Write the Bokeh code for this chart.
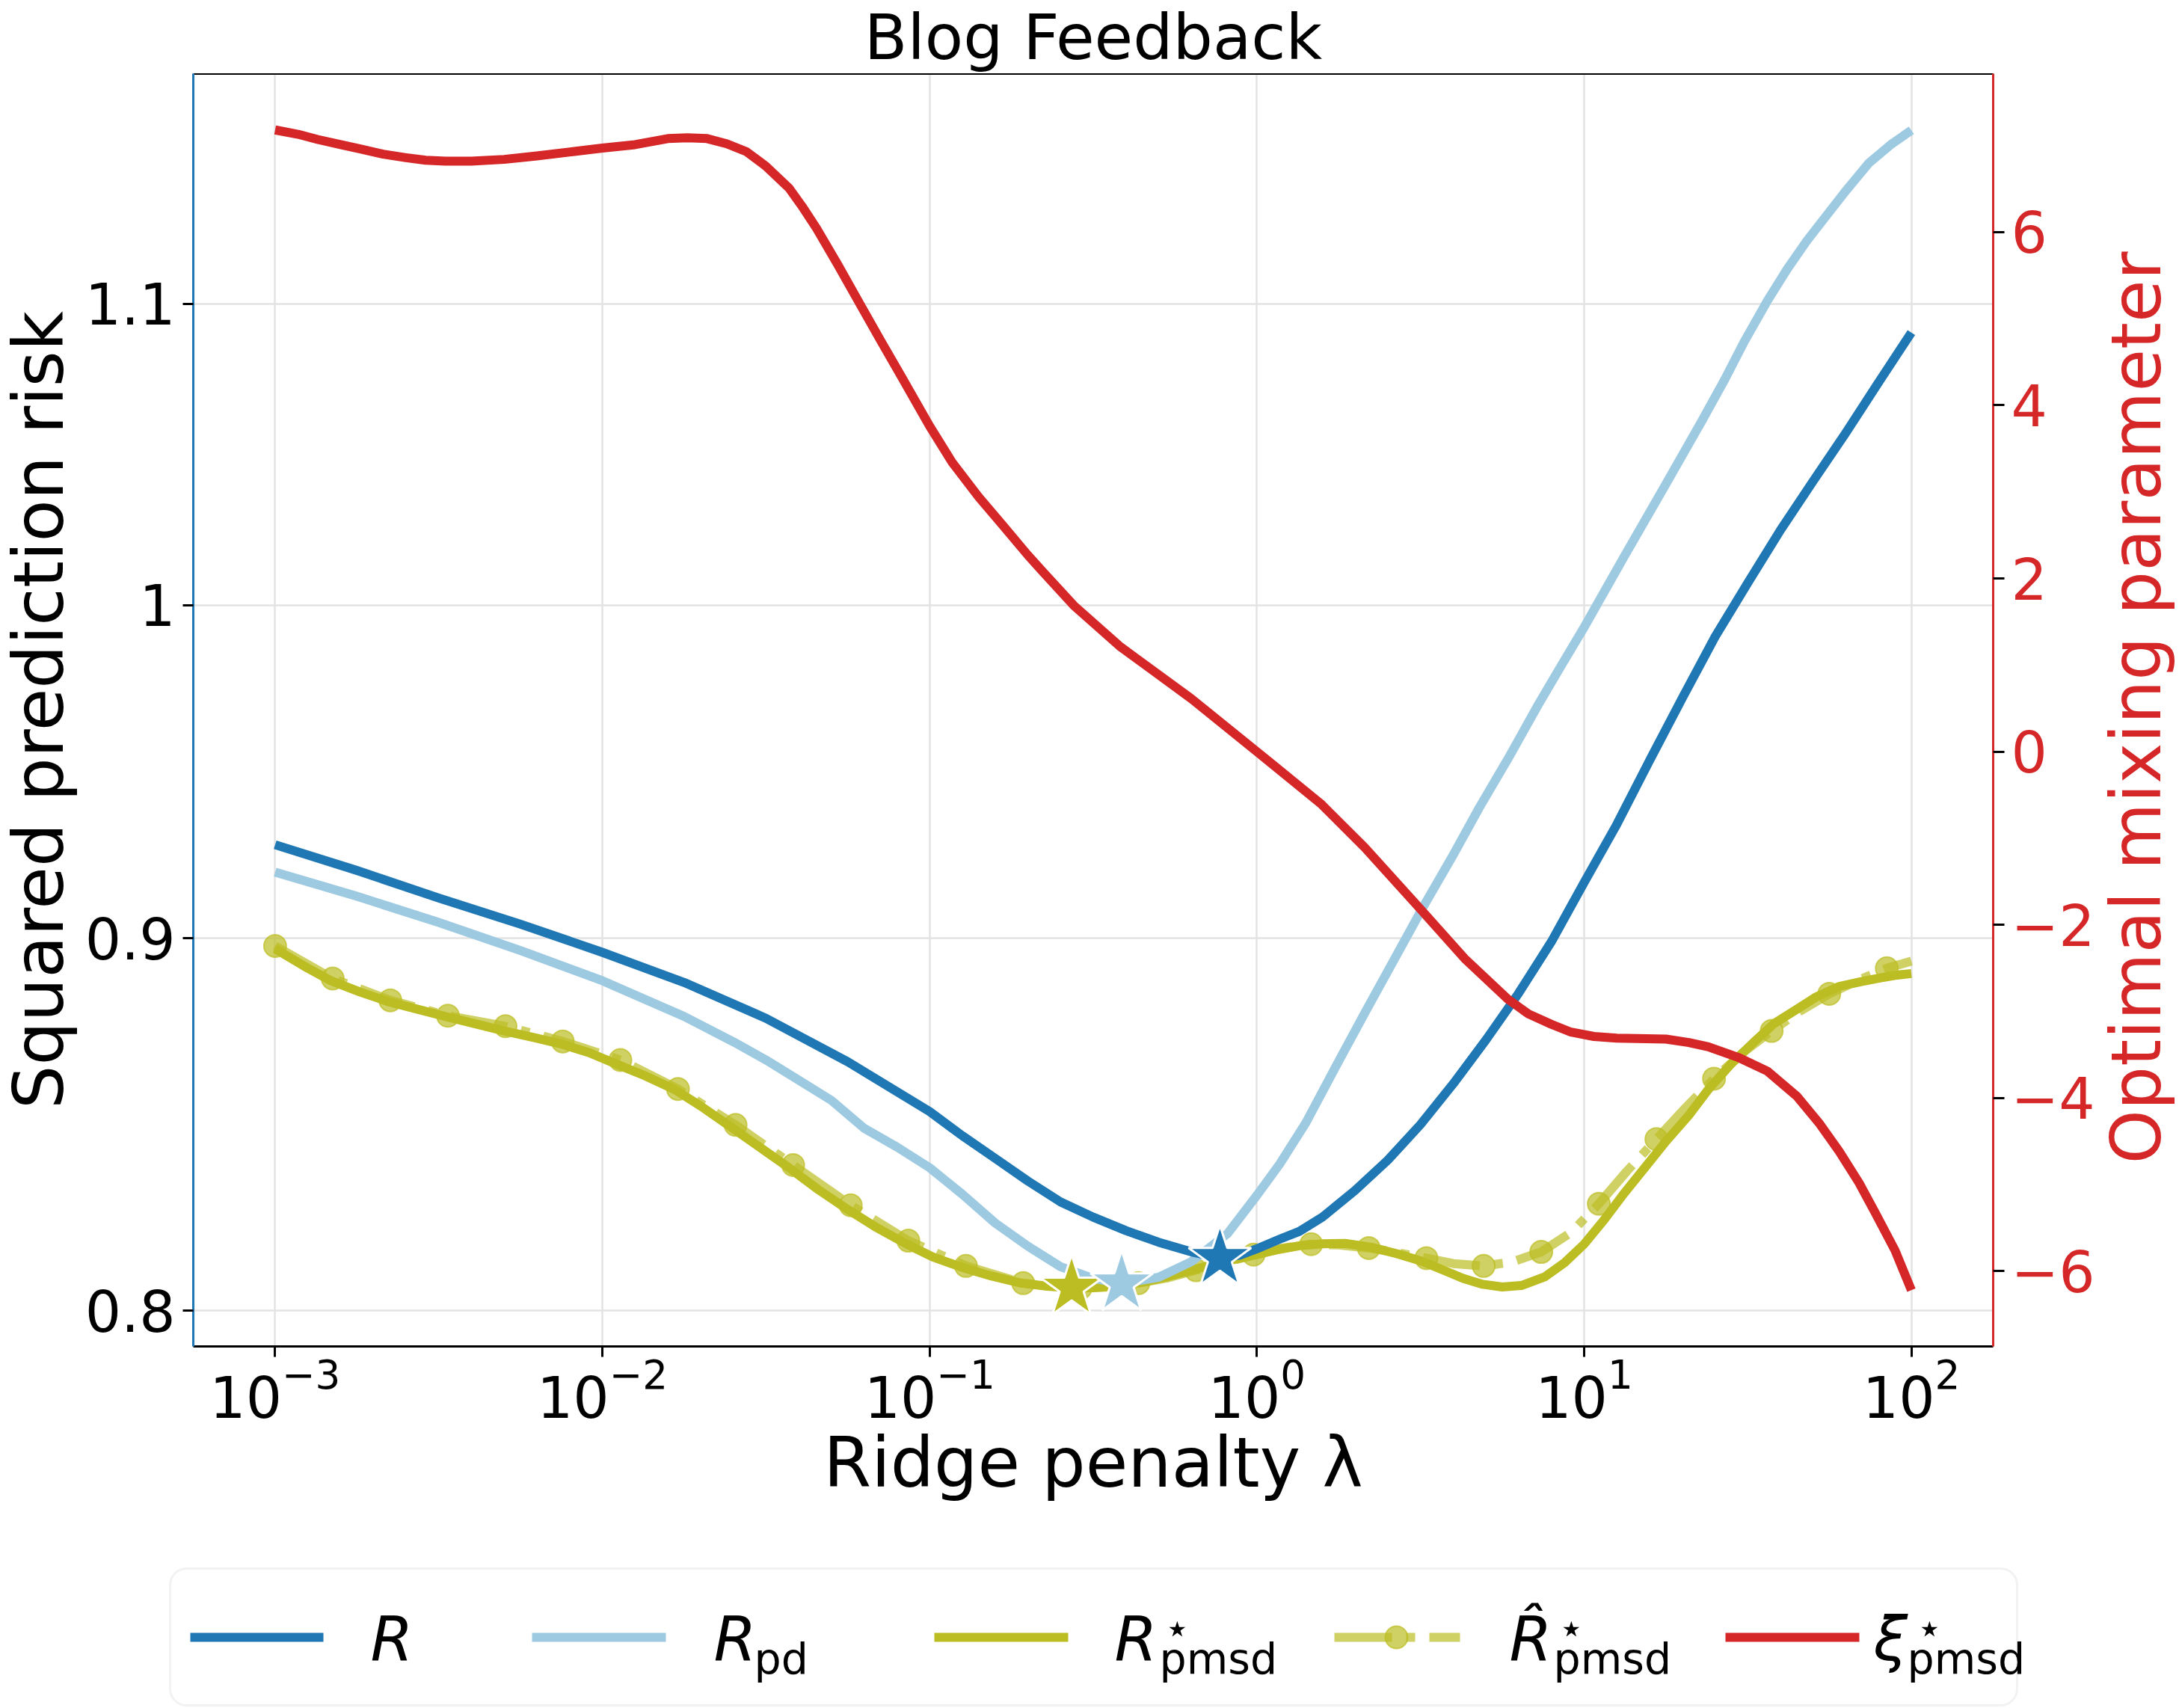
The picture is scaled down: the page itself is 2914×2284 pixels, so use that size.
import numpy as np
from bokeh.plotting import figure
from bokeh.models import (Range1d, LinearAxis, LinearScale, FixedTicker, CustomJSTickFormatter,
                          BoxAnnotation, Plot)
from bokeh.layouts import column, row
from bokeh.embed import file_html
from bokeh.resources import INLINE
from bokeh.core.properties import value

# ---------------- data (log10 of ridge penalty) ----------------
title_text = "Blog Feedback"
x_label = "Ridge penalty λ"
y_label = "Squared prediction risk"
y2_label = "Optimal mixing parameter"

r_loglam = [-3.0, -2.75, -2.5, -2.25, -2.0, -1.75, -1.5, -1.25, -1.0, -0.9, -0.8, -0.7, -0.6,
            -0.5, -0.4, -0.3, -0.2, -0.11, -0.05, 0.0, 0.07, 0.13, 0.2, 0.3, 0.4, 0.5, 0.6,
            0.7, 0.8, 0.9, 1.0, 1.1, 1.2, 1.3, 1.4, 1.5, 1.6, 1.7, 1.8, 1.9, 2.0]
r_vals = [0.927, 0.9195, 0.9115, 0.904, 0.896, 0.8875, 0.8775, 0.8655, 0.852, 0.8455, 0.8395,
          0.8335, 0.8280, 0.8240, 0.8205, 0.8175, 0.8150, 0.8134, 0.8142, 0.8158, 0.8183,
          0.8203, 0.8240, 0.8310, 0.8390, 0.8485, 0.8595, 0.8715, 0.8845, 0.899, 0.916,
          0.933, 0.952, 0.971, 0.990, 1.007, 1.024, 1.040, 1.056, 1.073, 1.090]

pd_loglam = [-3.0, -2.75, -2.5, -2.25, -2.0, -1.75, -1.6, -1.5, -1.4, -1.3, -1.2, -1.1, -1.0,
             -0.9, -0.8, -0.7, -0.6, -0.5, -0.413, -0.3, -0.2, -0.09, 0.0, 0.07, 0.15, 0.24,
             0.33, 0.42, 0.5, 0.6, 0.68, 0.77, 0.86, 0.93, 1.0, 1.12, 1.25, 1.36, 1.43, 1.49,
             1.56, 1.62, 1.68, 1.74, 1.8, 1.87, 1.94, 2.0]
pd_vals = [0.919, 0.912, 0.9045, 0.8965, 0.888, 0.878, 0.871, 0.866, 0.8605, 0.855, 0.8475,
           0.8425, 0.837, 0.830, 0.8225, 0.8165, 0.8112, 0.8082, 0.8069, 0.8085, 0.8125,
           0.8197, 0.8297, 0.8380, 0.849, 0.864, 0.879, 0.894, 0.9076, 0.924, 0.938, 0.953,
           0.969, 0.981, 0.993, 1.015, 1.039, 1.060, 1.074, 1.087, 1.101, 1.112, 1.122, 1.131,
           1.140, 1.150, 1.157, 1.162]

pmsd_loglam = [-3.0, -2.9, -2.83, -2.74, -2.65, -2.56, -2.48, -2.39, -2.3, -2.21, -2.13, -2.04,
               -1.96, -1.87, -1.78, -1.7, -1.61, -1.52, -1.43, -1.34, -1.25, -1.16, -1.07,
               -0.99, -0.9, -0.81, -0.72, -0.64, -0.57, -0.5, -0.42, -0.35, -0.28, -0.2, -0.1,
               0.0, 0.07, 0.13, 0.2, 0.27, 0.35, 0.43, 0.5, 0.57, 0.63, 0.69, 0.75, 0.81, 0.88,
               0.94, 1.0, 1.06, 1.12, 1.19, 1.25, 1.32, 1.38, 1.45, 1.52, 1.58, 1.65, 1.71,
               1.78, 1.85, 1.9, 1.95, 2.0]
pmsd_vals = [0.897, 0.8915, 0.888, 0.8848, 0.882, 0.8799, 0.878, 0.876, 0.874, 0.8722, 0.8705,
             0.868, 0.865, 0.8617, 0.858, 0.8535, 0.848, 0.8425, 0.837, 0.8312, 0.826, 0.8212,
             0.817, 0.8137, 0.811, 0.8088, 0.807, 0.8062, 0.8058, 0.8058, 0.8063, 0.8072,
             0.8085, 0.8103, 0.8125, 0.8143, 0.8157, 0.8166, 0.8171, 0.8172, 0.8162, 0.8145,
             0.8127, 0.8103, 0.8082, 0.8067, 0.8060, 0.8064, 0.8086, 0.8122, 0.817, 0.8232,
             0.830, 0.8375, 0.844, 0.851, 0.858, 0.865, 0.871, 0.876, 0.880, 0.8835, 0.8864,
             0.8878, 0.8887, 0.8895, 0.890]

# markers of the estimated risk curve
rhat_mk_loglam = [-3.0, -2.824, -2.648, -2.472, -2.296, -2.121, -1.945, -1.769, -1.593, -1.417,
                  -1.241, -1.065, -0.889, -0.714, -0.538, -0.362, -0.186, -0.010, 0.166, 0.342,
                  0.518, 0.693, 0.869, 1.045, 1.221, 1.397, 1.573, 1.749, 1.925]
rhat_mk_vals = [0.8978, 0.8886, 0.8825, 0.8782, 0.8753, 0.8711, 0.8660, 0.8581, 0.8484, 0.8377,
                0.8271, 0.8179, 0.8114, 0.8070, 0.8058, 0.8070, 0.8103, 0.8143, 0.8170, 0.8160,
                0.8134, 0.8114, 0.8150, 0.8275, 0.8446, 0.8609, 0.8740, 0.8843, 0.8915]
# dash-dot line of the estimated risk curve
rhat_ln_loglam = [-3.0, -2.824, -2.648, -2.472, -2.296, -2.121, -1.945, -1.769, -1.593, -1.417,
                  -1.241, -1.065, -0.889, -0.714, -0.62, -0.538, -0.45, -0.362, -0.27, -0.186,
                  -0.1, -0.010, 0.08, 0.166, 0.25, 0.342, 0.43, 0.518, 0.6, 0.693, 0.78, 0.869,
                  0.96, 1.045, 1.13, 1.221, 1.31, 1.397, 1.485, 1.573, 1.66, 1.749, 1.84,
                  1.925, 2.0]
rhat_ln_vals = [0.8978, 0.8886, 0.8825, 0.8782, 0.8753, 0.8711, 0.8660, 0.8581, 0.8484, 0.8377,
                0.8271, 0.8179, 0.8114, 0.8070, 0.8062, 0.8058, 0.8060, 0.8070, 0.8084, 0.8103,
                0.8122, 0.8143, 0.8160, 0.8170, 0.8168, 0.8160, 0.8148, 0.8134, 0.8120, 0.8114,
                0.8124, 0.8150, 0.8200, 0.8275, 0.8360, 0.8446, 0.8530, 0.8609, 0.8680, 0.8740,
                0.8795, 0.8843, 0.8882, 0.8915, 0.8935]

xi_loglam = [-3.0, -2.93, -2.87, -2.8, -2.74, -2.67, -2.6, -2.54, -2.48, -2.4, -2.3, -2.2, -2.09,
             -2.0, -1.9, -1.8, -1.74, -1.68, -1.62, -1.56, -1.5, -1.43, -1.39, -1.345, -1.28,
             -1.216, -1.15, -1.083, -1.0, -0.931, -0.85, -0.778, -0.7, -0.65, -0.56, -0.42,
             -0.2, 0.0, 0.195, 0.33, 0.5, 0.635, 0.767, 0.83, 0.9, 0.96, 1.03, 1.1, 1.25, 1.32,
             1.38, 1.47, 1.56, 1.65, 1.72, 1.78, 1.84, 1.89, 1.95, 2.0]
xi_vals = [7.18, 7.13, 7.07, 7.01, 6.96, 6.90, 6.86, 6.83, 6.82, 6.82, 6.84, 6.88, 6.93, 6.97,
           7.01, 7.08, 7.09, 7.08, 7.02, 6.93, 6.76, 6.51, 6.30, 6.04, 5.62, 5.19, 4.75, 4.31,
           3.76, 3.34, 2.94, 2.62, 2.27, 2.06, 1.69, 1.22, 0.61, 0.0, -0.60, -1.11, -1.82,
           -2.39, -2.86, -3.03, -3.15, -3.24, -3.29, -3.31, -3.32, -3.36, -3.41, -3.53, -3.69,
           -3.98, -4.30, -4.62, -4.98, -5.33, -5.76, -6.22]

star_loglam = [-0.566, -0.413, -0.113]
star_vals = [0.8058, 0.8069, 0.8134]

x_ticks = [1e-3, 1e-2, 1e-1, 1e0, 1e1, 1e2]
y_ticks = [0.8, 0.9, 1.0, 1.1]
xi_ticks = [-6, -4, -2, 0, 2, 4, 6]

# ---------------- styles / layout ----------------
C_R = "#1f77b4"
C_PD = "#9ecae1"
C_OL = "#bcbd22"
C_XI = "#d62728"
FONT = "DejaVu Sans"
LW = 12

W = 2914
TITLE_H = 98
LEG_H = 214
MAIN_H = 2284 - TITLE_H - LEG_H
LS_W = 110            # strip holding the left axis title
RS_W = 110            # strip holding the right axis title
MAIN_W = W - LS_W - RS_W
FRAME_L, FRAME_R, FRAME_T, FRAME_B = 255, 2668, 98, 1800
HAS_FRAME_ALIGN = "frame_align" in Plot.properties()


def lam(a):
    return 10 ** np.asarray(a, dtype=float)


def bare(fig):
    fig.grid.visible = False
    fig.outline_line_color = None
    fig.background_fill_color = "white"
    fig.border_fill_color = "white"
    if HAS_FRAME_ALIGN:
        fig.frame_align = False


def strip(width, height, x0, y0):
    f = figure(width=width, height=height, x_range=Range1d(x0, x0 + width),
               y_range=Range1d(y0 + height, y0), output_backend="svg", toolbar_location=None,
               min_border=0, x_axis_location=None, y_axis_location=None)
    bare(f)
    return f


# ---------------- title strip ----------------
tf = strip(W, TITLE_H, 0, 0)
tf.text([(FRAME_L + FRAME_R) / 2], [49], text=[title_text], text_align="center",
        text_baseline="alphabetic", text_font=value(FONT), text_font_size="84px",
        text_color="black")

# ---------------- axis-title strips ----------------
ls = strip(LS_W, MAIN_H, 0, TITLE_H)
ls.text([52], [(FRAME_T + FRAME_B) / 2], text=[y_label], angle=np.pi / 2, text_align="center",
        text_baseline="alphabetic", text_font=value(FONT), text_font_size="92px",
        text_color="black")
rs = strip(RS_W, MAIN_H, LS_W + MAIN_W, TITLE_H)
rs.text([2857], [946], text=[y2_label], angle=np.pi / 2, text_align="center",
        text_baseline="alphabetic", text_font=value(FONT), text_font_size="92px",
        text_color=C_XI)

# ---------------- main plot ----------------
p = figure(width=MAIN_W, height=MAIN_H, x_axis_type="log", y_axis_type="log",
           x_range=Range1d(10 ** -3.25, 10 ** 2.25), y_range=Range1d(0.791, 1.183),
           output_backend="svg", toolbar_location=None,
           min_border_left=FRAME_L - LS_W, min_border_right=LS_W + MAIN_W - FRAME_R,
           min_border_top=FRAME_T - TITLE_H, min_border_bottom=TITLE_H + MAIN_H - FRAME_B)
p.extra_y_ranges = {"xi": Range1d(-6.87, 7.83)}
p.extra_y_scales = {"xi": LinearScale()}
p.outline_line_color = None
p.background_fill_color = "white"
p.border_fill_color = "white"
if HAS_FRAME_ALIGN:
    p.frame_align = False

# bottom axis
xa = p.xaxis[0]
xa.ticker = FixedTicker(ticks=x_ticks)
xa.axis_label = x_label
xa.axis_label_text_font = FONT
xa.axis_label_text_font_style = "normal"
xa.axis_label_text_font_size = "92px"
xa.axis_label_text_color = "black"
xa.axis_label_standoff = 4
xa.major_label_text_font = FONT
xa.major_label_text_font_size = "76px"
xa.major_label_text_color = "black"
xa.major_label_standoff = 0
xa.axis_line_color = "black"
xa.axis_line_width = 3
xa.major_tick_line_color = "black"
xa.major_tick_line_width = 3
xa.major_tick_out = 14
xa.major_tick_in = 0
xa.minor_tick_line_color = None

# left axis
ya = p.yaxis[0]
ya.ticker = FixedTicker(ticks=y_ticks)
ya.formatter = CustomJSTickFormatter(code="return (Math.round(tick*10)/10).toString();")
ya.major_label_text_font = FONT
ya.major_label_text_font_size = "76px"
ya.major_label_text_color = "black"
ya.major_label_standoff = 10
ya.axis_line_color = C_R
ya.axis_line_width = 3
ya.major_tick_line_color = "black"
ya.major_tick_line_width = 3
ya.major_tick_out = 14
ya.major_tick_in = 0
ya.minor_tick_line_color = None

# right axis
ra = LinearAxis(y_range_name="xi", ticker=FixedTicker(ticks=xi_ticks),
                formatter=CustomJSTickFormatter(
                    code="return tick < 0 ? '\\u2212' + (-tick) : '' + tick;"))
ra.major_label_text_font = FONT
ra.major_label_text_font_size = "76px"
ra.major_label_text_color = C_XI
ra.major_label_standoff = 9
ra.axis_line_color = C_XI
ra.axis_line_width = 3
ra.major_tick_line_color = "black"
ra.major_tick_line_width = 3
ra.major_tick_out = 15
ra.major_tick_in = 0
ra.minor_tick_line_color = None
p.add_layout(ra, "right")

# top spine
ta = LinearAxis(ticker=FixedTicker(ticks=[]), major_tick_line_color=None,
                minor_tick_line_color=None, major_label_text_font_size="0px",
                major_tick_out=0, major_tick_in=0, major_label_standoff=0,
                axis_line_color="black", axis_line_width=3)
p.add_layout(ta, "above")

# grid
p.xgrid.ticker = FixedTicker(ticks=x_ticks)
p.ygrid.ticker = FixedTicker(ticks=y_ticks)
for g in (p.xgrid[0], p.ygrid[0]):
    g.grid_line_color = "#e3e3e3"
    g.grid_line_width = 2.5

# curves
p.line(lam(rhat_ln_loglam), rhat_ln_vals, line_color=C_OL, line_alpha=0.7, line_width=LW,
       line_dash="77 19 12 19")
p.scatter(lam(rhat_mk_loglam), rhat_mk_vals, marker="circle", size=30, fill_color=C_OL,
          fill_alpha=0.7, line_color=C_OL, line_alpha=0.7, line_width=2)
p.line(lam(pmsd_loglam), pmsd_vals, line_color=C_OL, line_width=LW, line_join="round")
p.line(lam(pd_loglam), pd_vals, line_color=C_PD, line_width=LW, line_join="round")
p.line(lam(r_loglam), r_vals, line_color=C_R, line_width=LW, line_join="round")
for lx, v, c in zip(star_loglam, star_vals, [C_OL, C_PD, C_R]):
    p.scatter(lam([lx]), [v], marker="star", size=88, fill_color=c, line_color="white",
              line_width=3)
p.line(lam(xi_loglam), xi_vals, line_color=C_XI, line_width=LW, line_join="round",
       y_range_name="xi")

# ---------------- legend panel ----------------
Y0 = 2284 - LEG_H
lg = strip(W, LEG_H, 0, Y0)

lg.add_layout(BoxAnnotation(left=227, right=2697, top=2097, bottom=2280, fill_color="white",
                            fill_alpha=1.0, line_color="#d4d4d4", line_width=3,
                            border_radius=22, level="underlay"))

ly = 2189
lg.segment([254], [ly], [432], [ly], line_color=C_R, line_width=LW)
lg.segment([711], [ly], [890], [ly], line_color=C_PD, line_width=LW)
lg.segment([1249], [ly], [1428], [ly], line_color=C_OL, line_width=LW)
lg.segment([1784], [ly], [1952], [ly], line_color=C_OL, line_alpha=0.7, line_width=LW,
           line_dash="77 19 12 19")
lg.scatter([1867], [ly], marker="circle", size=30, fill_color=C_OL, fill_alpha=0.7,
           line_color=C_OL, line_alpha=0.7, line_width=2)
lg.segment([2307], [ly], [2486], [ly], line_color=C_XI, line_width=LW)

base = 2191
sub_base = 2217
sup_base = 2176
main_kw = dict(text_font=value(FONT), text_font_style="italic", text_font_size="82px",
               text_baseline="alphabetic", text_align="left", text_color="black")
sub_kw = dict(text_font=value(FONT), text_font_style="normal", text_font_size="57px",
              text_baseline="alphabetic", text_align="left", text_color="black")

lg.text([495, 954, 1490, 2018, 2505], [base] * 5, text=["R", "R", "R", "R\u0302", "ξ"], **main_kw)
lg.text([1008, 1550, 2077, 2550], [sub_base] * 4, text=["pd", "pmsd", "pmsd", "pmsd"], **sub_kw)
lg.text([1556, 2083, 2562], [sup_base] * 3, text=["\u22c6", "\u22c6", "\u22c6"], **sub_kw)

layout = column(tf, row(ls, p, rs, spacing=0), lg, spacing=0)
open("out.html", "w").write(file_html(layout, INLINE))
